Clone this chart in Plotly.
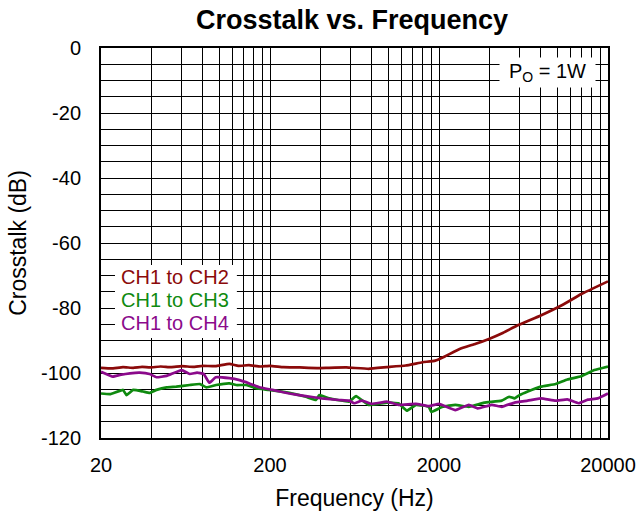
import plotly.graph_objects as go

# CH1 to CH2
freq_ch2 = [20, 23, 27, 31, 35, 39, 45, 52, 60, 70, 80, 95, 115, 130, 150, 175, 200, 240, 300, 380, 447, 565, 766, 983, 1270, 1600, 1900, 2150, 2650, 3300, 3950, 4800, 5800, 8000, 10800, 13900, 20000]
db_ch2 = [-98.4, -98.6, -98.2, -98.4, -98.1, -98.3, -98.0, -98.2, -97.9, -98.1, -97.8, -97.9, -97.2, -97.8, -97.6, -98.0, -97.8, -98.2, -98.3, -98.5, -98.4, -98.3, -98.7, -98.2, -97.7, -96.7, -96.2, -95.0, -92.6, -91.0, -89.5, -87.6, -85.4, -82.3, -79.0, -75.7, -71.8]

# CH1 to CH3
freq_ch3 = [20, 22.6, 27, 28.3, 31, 35.5, 38.8, 42.6, 48.9, 55.8, 67, 77, 84, 96, 115, 126, 145, 165, 197, 260, 326, 374, 392, 447, 587, 646, 766, 983, 1150, 1290, 1460, 1740, 1800, 2100, 2500, 3000, 3700, 4700, 5200, 5600, 6000, 6700, 8000, 9800, 11500, 13900, 16600, 20000]
db_ch3 = [-106.3, -106.5, -105.2, -106.8, -105.2, -105.7, -106.1, -105.2, -104.4, -104.2, -103.7, -103.4, -104.4, -103.7, -103.2, -103.7, -103.7, -104.7, -105.2, -106.1, -107.3, -108.3, -106.8, -107.8, -108.8, -107.1, -109.8, -109.1, -109.3, -111.6, -109.8, -110.4, -112.0, -110.4, -109.8, -110.4, -109.1, -108.5, -107.3, -107.8, -106.8, -105.7, -104.2, -103.4, -102.0, -101.0, -99.1, -98.0]

# CH1 to CH4
freq_ch4 = [20, 23.5, 25.9, 29.7, 33.9, 38.8, 42.6, 48.9, 60, 67, 74, 81, 87.5, 95.6, 115, 132, 151, 173, 207, 260, 326, 404, 510, 587, 630, 700, 800, 983, 1150, 1460, 1740, 2000, 2500, 3000, 3400, 4100, 4700, 5600, 6700, 8000, 9800, 11500, 13400, 15200, 17400, 20000]
db_ch4 = [-99.6, -101.1, -100.6, -100.1, -99.9, -100.3, -101.3, -100.9, -99.1, -100.3, -99.9, -100.3, -103.0, -101.3, -101.6, -102.2, -103.2, -104.4, -105.2, -106.3, -107.1, -107.8, -108.3, -108.5, -109.3, -108.5, -109.5, -108.8, -109.8, -109.5, -110.2, -109.5, -111.4, -109.8, -110.9, -109.8, -110.4, -109.1, -108.5, -107.8, -108.5, -108.1, -109.3, -108.2, -107.8, -106.3]

series_names = ["CH1 to CH2", "CH1 to CH3", "CH1 to CH4"]
series_colors = ["#8b0a0a", "#0f8a0f", "#8b0a8b"]

x_grid = [20 * k for k in range(1, 10)] + [200 * k for k in range(1, 10)] + [2000 * k for k in range(1, 11)]
x_labels = {20: "20", 200: "200", 2000: "2000", 20000: "20000"}
y_grid = list(range(-120, 1, 5))

fig = go.Figure()
for f, d, name, col in zip([freq_ch2, freq_ch3, freq_ch4], [db_ch2, db_ch3, db_ch4], series_names, series_colors):
    fig.add_trace(go.Scatter(x=f, y=d, mode="lines", name=name,
                             line=dict(color=col, width=2.7, shape="spline", smoothing=0.3)))

font_family = "Liberation Sans, Arial, sans-serif"
fig.update_layout(
    width=637, height=521,
    margin=dict(l=101, r=29, t=48, b=83, autoexpand=False),
    paper_bgcolor="white", plot_bgcolor="white",
    showlegend=False,
    font=dict(family=font_family, color="black", size=20),
    title=dict(text="<b>Crosstalk vs. Frequency</b>", x=0.5526, xanchor="center", y=0.9616, yanchor="middle",
               font=dict(size=27, family=font_family, color="black")),
    xaxis=dict(type="log", range=[1.30103, 4.30103], automargin=False,
               tickvals=x_grid, ticktext=[x_labels.get(v, "") for v in x_grid],
               showgrid=True, gridcolor="black", gridwidth=1,
               showline=True, linecolor="black", linewidth=2, mirror=True,
               ticks="", tickfont=dict(size=20), ticklabelstandoff=8,
               title=dict(text="Frequency (Hz)", font=dict(size=23), standoff=15),
               zeroline=False),
    yaxis=dict(range=[-120, 0], tickvals=y_grid, automargin=False,
               ticktext=[str(v) if v % 20 == 0 else "" for v in y_grid],
               showgrid=True, gridcolor="black", gridwidth=1,
               showline=True, linecolor="black", linewidth=2, mirror=True,
               ticks="", tickfont=dict(size=20), ticklabelstandoff=14,
               title=dict(text="Crosstalk (dB)", font=dict(size=23), standoff=8),
               zeroline=False),
)

# legend box (white background covering the grid)
fig.add_shape(type="rect", xref="paper", yref="paper", x0=0.0276, x1=0.268, y0=0.2564, y1=0.4436,
              fillcolor="white", line=dict(width=0), layer="above")
legend_y = [0.4128, 0.3538, 0.2949]
for n, c, yy in zip(series_names, series_colors, legend_y):
    fig.add_annotation(xref="paper", yref="paper", x=0.0355, y=yy, xanchor="left", yanchor="middle",
                       text=n, showarrow=False, font=dict(size=20, color=c))

fig.add_annotation(xref="paper", yref="paper", x=0.8797, y=0.9378, xanchor="center", yanchor="middle",
                   text="P<sub>O</sub> = 1W", showarrow=False, bgcolor="white",
                   width=95, height=29, font=dict(size=20), borderpad=0)

fig.write_html("out.html", config={"displayModeBar": False},
               post_script="document.body.style.margin='0px';")
